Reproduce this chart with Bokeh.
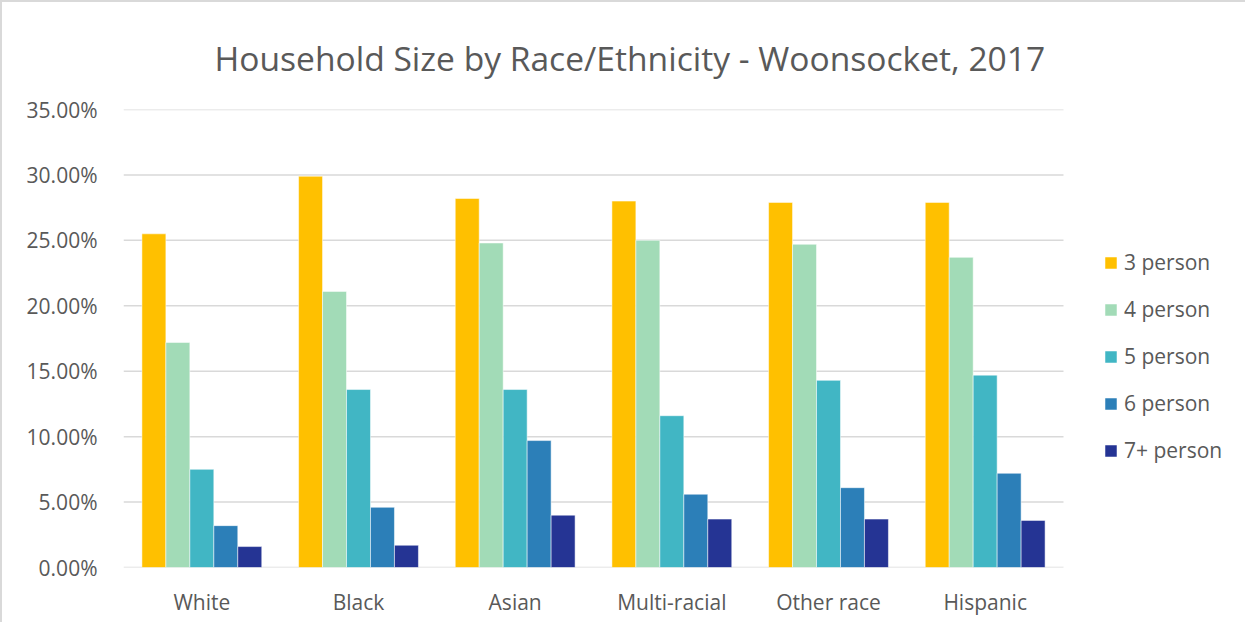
from bokeh.plotting import figure
from bokeh.models import ColumnDataSource, Range1d, Legend, LegendItem, NumeralTickFormatter, FixedTicker
from bokeh.transform import dodge
from bokeh.embed import file_html
from bokeh.resources import INLINE

categories = ["White", "Black", "Asian", "Multi-racial", "Other race", "Hispanic"]
series_names = ["3 person", "4 person", "5 person", "6 person", "7+ person"]
p3 = [0.255, 0.299, 0.282, 0.280, 0.279, 0.279]
p4 = [0.172, 0.211, 0.248, 0.250, 0.247, 0.237]
p5 = [0.075, 0.136, 0.136, 0.116, 0.143, 0.147]
p6 = [0.032, 0.046, 0.097, 0.056, 0.061, 0.072]
p7 = [0.016, 0.017, 0.040, 0.037, 0.037, 0.036]
y_ticks = [0.0, 0.05, 0.10, 0.15, 0.20, 0.25, 0.30, 0.35]

colors = ["#FFC000", "#A2DBB7", "#41B6C4", "#2C7FB8", "#253494"]
keys = ["p3", "p4", "p5", "p6", "p7"]

xpos = list(range(len(categories)))
source = ColumnDataSource(data=dict(x=xpos, cat=categories, p3=p3, p4=p4, p5=p5, p6=p6, p7=p7))

FONT = "Open Sans"
TXT = "#595959"

# layout geometry (pixels)
W, H = 1245, 622
LEFT, RIGHT, TOP, BOTTOM = 121, 5, 107, 57
CAT_PX = 940 / len(categories)          # width of one category slot
frame_w = W - LEFT - RIGHT
x_start = -0.5
x_end = x_start + frame_w / CAT_PX      # extra room on the right for the legend

p = figure(x_range=Range1d(x_start, x_end), y_range=Range1d(0, 0.35),
           width=W, height=H, output_backend="svg", toolbar_location=None,
           min_border_left=LEFT, min_border_right=RIGHT,
           min_border_top=TOP, min_border_bottom=BOTTOM)

# horizontal gridlines only across the category area
p.segment(x0=x_start, x1=len(categories) - 0.5, y0=y_ticks, y1=y_ticks,
          line_color="#D9D9D9", line_width=1.5)

bw = 0.153
items = []
for i, (k, c, name) in enumerate(zip(keys, colors, series_names)):
    r = p.vbar(x=dodge("x", (i - 2) * bw), top=k, width=bw, source=source,
               fill_color=c, line_color="white", line_alpha=0.5, line_width=1)
    items.append(LegendItem(label=name, renderers=[r]))

legend = Legend(items=items, location=(980, 103), border_line_color=None,
                label_text_font=FONT, label_text_font_size="21px", label_text_color=TXT,
                glyph_width=15, glyph_height=15, label_height=27, spacing=19,
                label_standoff=6, margin=0, padding=0, background_fill_alpha=0)
p.add_layout(legend, "center")

p.title.text = "Household Size by Race/Ethnicity - Woonsocket, 2017"
p.title.align = "left"
p.title.offset = 91
p.title.standoff = 58
p.title.text_font = FONT
p.title.text_font_size = "33.6px"
p.title.text_font_style = "normal"
p.title.text_color = TXT

p.yaxis.ticker = FixedTicker(ticks=y_ticks)
p.yaxis.formatter = NumeralTickFormatter(format="0.00%")
p.yaxis.axis_line_color = None
p.yaxis.major_tick_line_color = None
p.yaxis.minor_tick_line_color = None
p.yaxis.major_label_text_font = FONT
p.yaxis.major_label_text_font_size = "21px"
p.yaxis.major_label_text_color = TXT
p.yaxis.major_label_standoff = 20

p.xaxis.ticker = FixedTicker(ticks=xpos)
p.xaxis.major_label_overrides = {i: c for i, c in zip(xpos, categories)}
p.xaxis.axis_line_color = None
p.xaxis.major_tick_line_color = None
p.xaxis.minor_tick_line_color = None
p.xaxis.major_label_text_font = FONT
p.xaxis.major_label_text_font_size = "21px"
p.xaxis.major_label_text_color = TXT
p.xaxis.major_label_standoff = 14

p.xgrid.grid_line_color = None
p.ygrid.grid_line_color = None

p.outline_line_color = None
p.border_fill_color = "white"
p.background_fill_color = "white"
p.styles = {"border-left": "2px solid #D9D9D9", "border-top": "2px solid #D9D9D9"}

open("out.html", "w").write(file_html(p, INLINE))
